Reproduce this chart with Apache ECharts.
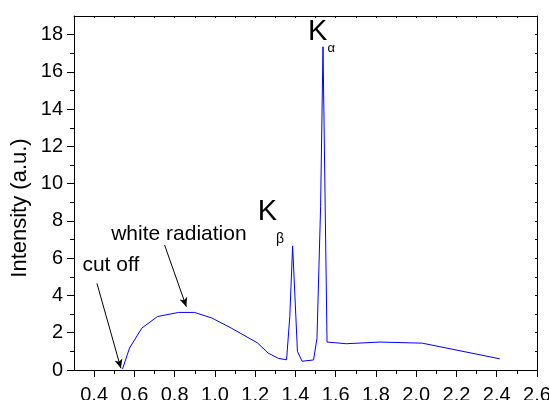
<!DOCTYPE html>
<html>
<head>
<meta charset="utf-8">
<script src="https://cdn.jsdelivr.net/npm/echarts@6/dist/echarts.min.js"></script>
<style>
html,body{margin:0;padding:0;background:#fff;}
#chart{width:549px;height:400px;}
</style>
</head>
<body>
<div id="chart"></div>
<script>
// Data
const wavelength = [0.541,0.576,0.637,0.715,0.82,0.898,0.985,1.081,1.212,1.264,1.316,1.356,1.372,1.386,1.41,1.433,1.49,1.507,1.525,1.537,1.557,1.652,1.82,2.03,2.415];
const intensity  = [0.05,1.18,2.25,2.87,3.09,3.09,2.79,2.25,1.45,0.91,0.62,0.55,2.88,6.66,1.0,0.47,0.54,1.7,8.76,17.35,1.5,1.41,1.5,1.44,0.6];

const xMajorTicks = [0.4,0.6,0.8,1.0,1.2,1.4,1.6,1.8,2.0,2.2,2.4,2.6];
const xMinorTicks = [0.5,0.7,0.9,1.1,1.3,1.5,1.7,1.9,2.1,2.3,2.5];
const xAllTicks = [0.3,0.4,0.5,0.6,0.7,0.8,0.9,1.0,1.1,1.2,1.3,1.4,1.5,1.6,1.7,1.8,1.9,2.0,2.1,2.2,2.3,2.4,2.5,2.6];
const yMajorTicks = [0,2,4,6,8,10,12,14,16,18];
const yMinorTicks = [1,3,5,7,9,11,13,15,17];
const yAllTicks = [0,1,2,3,4,5,6,7,8,9,10,11,12,13,14,15,16,17,18,19];

const yAxisName = 'Intensity (a.u.)';
// Annotation anchors in data coordinates
const cutOffArrow = [[0.414, 4.65], [0.533, 0.09]];
const whiteArrow = [[0.75, 6.71], [0.858, 3.40]];
const annotations = [
  {text: 'white radiation', at: [0.821, 7.31], size: 21},
  {text: 'cut off', at: [0.483, 5.60], size: 21},
  {text: 'K', at: [1.510, 18.15], size: 29},
  {text: 'α', at: [1.578, 17.27], size: 13},
  {text: 'K', at: [1.261, 8.5], size: 29},
  {text: 'β', at: [1.323, 7.0], size: 14}
];

const FONT = '"Liberation Sans", Arial, sans-serif';
const chart = echarts.init(document.getElementById('chart'), null, {renderer: 'canvas'});

const line = {show: true, lineStyle: {color: '#000', width: 1}};
const X = {min: 0.3, max: 2.6, type: 'value', splitLine: {show: false}};
const Y = {min: 0, max: 19, type: 'value', splitLine: {show: false}};

chart.setOption({
  animation: false,
  backgroundColor: '#fff',
  grid: {left: 74, right: 12, top: 16, bottom: 30, containLabel: false, outerBoundsMode: 'none'},
  xAxis: [
    Object.assign({}, X, {
      position: 'bottom',
      axisLine: Object.assign({onZero: false}, line),
      axisTick: {show: true, inside: false, length: 7, customValues: xMajorTicks, lineStyle: {color: '#000', width: 1}},
      axisLabel: {show: true, customValues: xMajorTicks, margin: 15, fontSize: 20, color: '#000', fontFamily: FONT,
        formatter: v => Number(v).toFixed(1)}
    }),
    Object.assign({}, X, {
      position: 'bottom',
      axisLine: {show: false, onZero: false},
      axisTick: {show: true, inside: false, length: 4, customValues: xMinorTicks, lineStyle: {color: '#000', width: 1}},
      axisLabel: {show: false}
    }),
    Object.assign({}, X, {
      position: 'top',
      axisLine: Object.assign({onZero: false}, line),
      axisTick: {show: true, inside: true, length: 2, customValues: xAllTicks, lineStyle: {color: '#000', width: 1}},
      axisLabel: {show: false}
    })
  ],
  yAxis: [
    Object.assign({}, Y, {
      position: 'left',
      axisLine: Object.assign({onZero: false}, line),
      axisTick: {show: true, inside: false, length: 7, customValues: yMajorTicks, lineStyle: {color: '#000', width: 1}},
      axisLabel: {show: true, customValues: yMajorTicks, margin: 11, fontSize: 20, color: '#000', fontFamily: FONT}
    }),
    Object.assign({}, Y, {
      position: 'left',
      axisLine: {show: false, onZero: false},
      axisTick: {show: true, inside: false, length: 4, customValues: yMinorTicks, lineStyle: {color: '#000', width: 1}},
      axisLabel: {show: false}
    }),
    Object.assign({}, Y, {
      position: 'right',
      axisLine: Object.assign({onZero: false}, line),
      axisTick: {show: true, inside: true, length: 2, customValues: yAllTicks, lineStyle: {color: '#000', width: 1}},
      axisLabel: {show: false}
    })
  ],
  series: [{
    type: 'line',
    xAxisIndex: 0,
    yAxisIndex: 0,
    data: wavelength.map((w, i) => [w, intensity[i]]),
    showSymbol: false,
    symbol: 'none',
    lineStyle: {color: '#0000ff', width: 1},
    itemStyle: {color: '#0000ff'},
    markLine: {
      silent: true,
      symbol: ['none', 'arrow'],
      symbolSize: [6, 9],
      label: {show: false},
      lineStyle: {color: '#000', width: 1, type: 'solid'},
      data: [
        [{coord: cutOffArrow[0]}, {coord: cutOffArrow[1]}],
        [{coord: whiteArrow[0]}, {coord: whiteArrow[1]}]
      ]
    }
  }]
});

const texts = annotations.map(a => {
  const p = chart.convertToPixel({xAxisIndex: 0, yAxisIndex: 0}, a.at);
  return {
    type: 'text',
    x: p[0], y: p[1],
    style: {text: a.text, fill: '#000', font: a.size + 'px ' + FONT, align: 'center', verticalAlign: 'middle'}
  };
});
// y-axis title, rotated, left of the axis
texts.push({
  type: 'text',
  x: 20, y: 208,
  rotation: Math.PI / 2,
  style: {text: yAxisName, fill: '#000', font: '22px ' + FONT, align: 'center', verticalAlign: 'middle'}
});
chart.setOption({graphic: texts});
</script>
</body>
</html>
